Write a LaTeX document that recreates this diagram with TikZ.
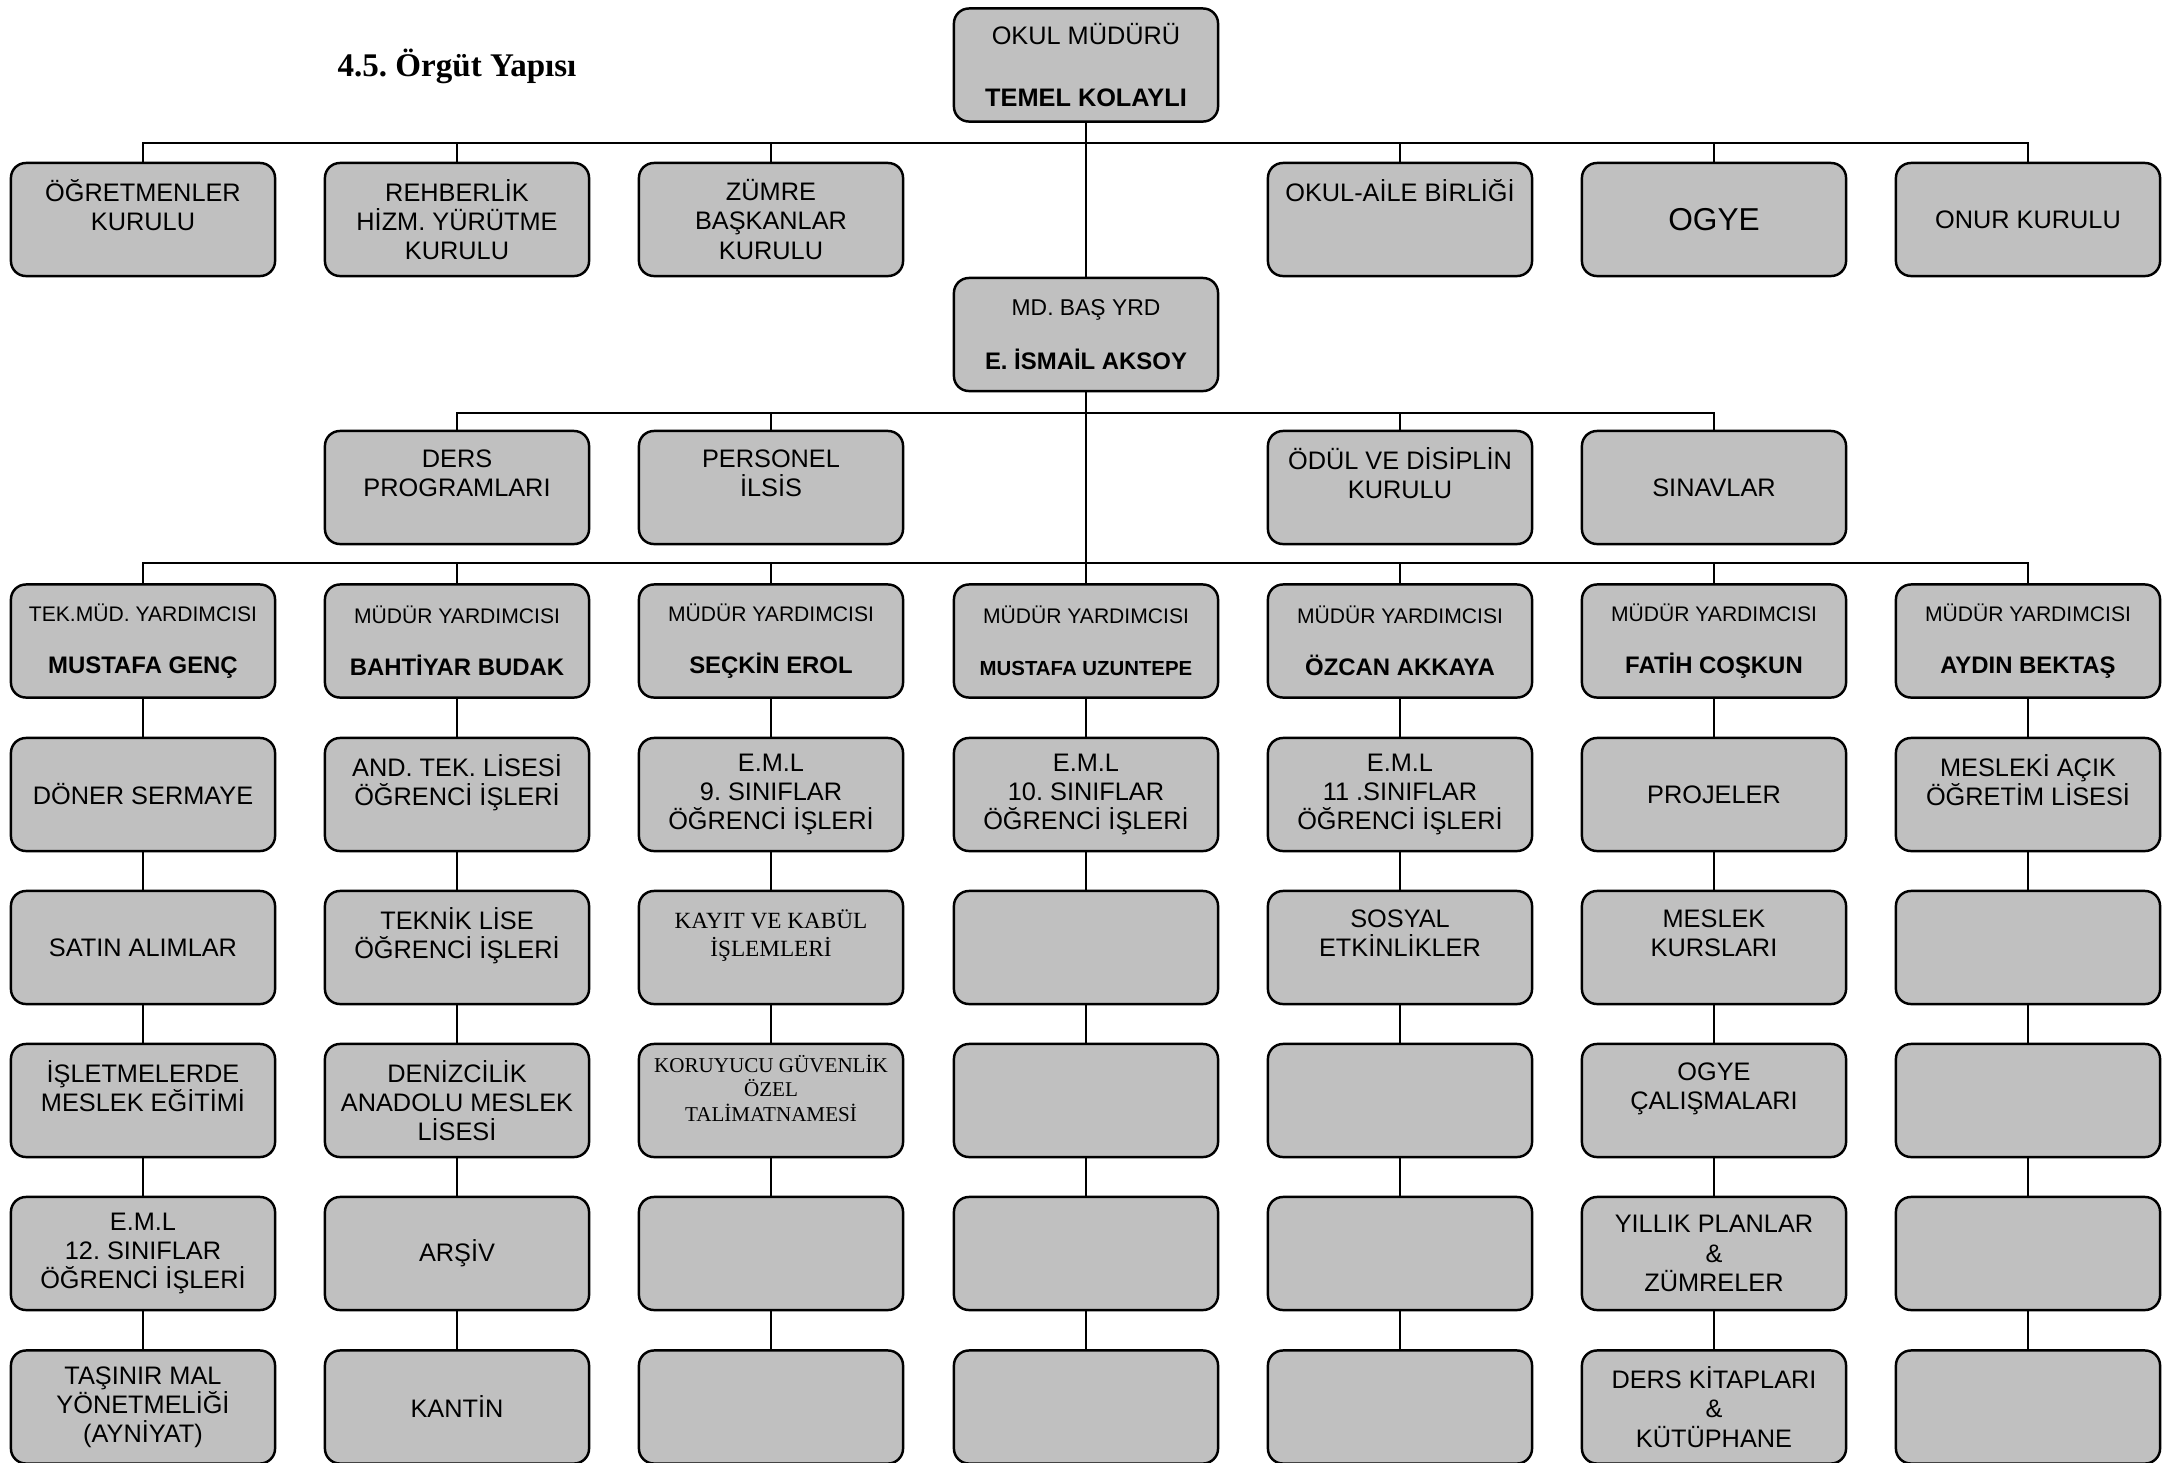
\documentclass[tikz,border=0pt]{standalone}
\usepackage{fontspec}
\setmainfont{Liberation Sans}
\newfontfamily\timesfont{Liberation Serif}
\definecolor{boxgray}{HTML}{C0C0C0}
\newcommand\rolefont{\fontsize{6}{7}\selectfont}
\newcommand\namefont{\bfseries\fontsize{6.8}{8}\selectfont}
\frenchspacing

\begin{document}
\begin{tikzpicture}[x=0.01cm,y=-0.01cm,
    box/.style={draw, fill=boxgray, rounded corners=0.15cm, line width=0.7pt,
      minimum width=2.64cm, minimum height=1.13cm, inner sep=0pt, align=center,
      font=\fontsize{7.2}{8.3}\selectfont},
    serifbox/.style={box, font=\timesfont\fontsize{6.6}{8.2}\selectfont},
    link/.style={line width=0.6pt}]
  \clip (0,0) rectangle (2165,1463);
  \path
    (457,66) node[font=\timesfont\bfseries\fontsize{9.4}{11}\selectfont] (title) {4.5. Örgüt Yapısı}
    (1086,65) node[box] (mudur) {OKUL MÜDÜRÜ\\[9.6pt]\textbf{TEMEL KOLAYLI}}
    (143,219.5) node[box] (k1) {ÖĞRETMENLER\\KURULU\\\mbox{}}
    (457,219.5) node[box] (k2) {REHBERLİK\\HİZM. YÜRÜTME\\KURULU}
    (771,219.5) node[box] (k3) {ZÜMRE\\BAŞKANLAR\\KURULU}
    (1400,219.5) node[box] (k5) {OKUL-AİLE BİRLİĞİ\\\mbox{}\\\mbox{}}
    (1714,219.5) node[box, font=\fontsize{9}{10}\selectfont] (k6) {OGYE}
    (2028,219.5) node[box] (k7) {ONUR KURULU}
    (1086,334.5) node[box] (basyrd) {{\fontsize{6.5}{8}\selectfont MD. BAŞ YRD}\\[7pt]{\namefont E. İSMAİL AKSOY}}
    (457,487.5) node[box] (p2) {DERS\\PROGRAMLARI\\\mbox{}}
    (771,487.5) node[box] (p3) {PERSONEL\\İLSİS\\\mbox{}}
    (1400,487.5) node[box] (p5) {ÖDÜL VE DİSİPLİN\\KURULU\\\mbox{}}
    (1714,487.5) node[box] (p6) {SINAVLAR};

  % mudur yardimcilari
  \path
    (143,641) node[box] (y1) {{\rolefont TEK.MÜD. YARDIMCISI}\\[6.4pt]{\namefont MUSTAFA GENÇ}}
    (457,641) node[box] (y2) {{\rolefont MÜDÜR YARDIMCISI}\\[6.4pt]{\namefont BAHTİYAR BUDAK}}
    (771,641) node[box] (y3) {{\rolefont MÜDÜR YARDIMCISI}\\[6.4pt]{\namefont SEÇKİN EROL}}
    (1086,641) node[box] (y4) {{\rolefont MÜDÜR YARDIMCISI}\\[6.4pt]{\bfseries\fontsize{5.8}{7}\selectfont MUSTAFA UZUNTEPE}}
    (1400,641) node[box] (y5) {{\rolefont MÜDÜR YARDIMCISI}\\[6.4pt]{\namefont ÖZCAN AKKAYA}}
    (1714,641) node[box] (y6) {{\rolefont MÜDÜR YARDIMCISI}\\[6.4pt]{\namefont FATİH COŞKUN}}
    (2028,641) node[box] (y7) {{\rolefont MÜDÜR YARDIMCISI}\\[6.4pt]{\namefont AYDIN BEKTAŞ}};

  \path
    (143,794.5) node[box] (a1) {DÖNER SERMAYE}
    (457,794.5) node[box] (a2) {AND. TEK. LİSESİ\\ÖĞRENCİ İŞLERİ\\\mbox{}}
    (771,794.5) node[box] (a3) {E.M.L\\9. SINIFLAR\\ÖĞRENCİ İŞLERİ}
    (1086,794.5) node[box] (a4) {E.M.L\\10. SINIFLAR\\ÖĞRENCİ İŞLERİ}
    (1400,794.5) node[box] (a5) {E.M.L\\11 .SINIFLAR\\ÖĞRENCİ İŞLERİ}
    (1714,794.5) node[box] (a6) {PROJELER}
    (2028,794.5) node[box] (a7) {MESLEKİ AÇIK\\ÖĞRETİM LİSESİ\\\mbox{}}
    (143,947.5) node[box] (b1) {SATIN ALIMLAR}
    (457,947.5) node[box] (b2) {TEKNİK LİSE\\ÖĞRENCİ İŞLERİ\\\mbox{}}
    (771,947.5) node[serifbox] (b3) {KAYIT VE KABÜL\\İŞLEMLERİ\\\mbox{}}
    (1086,947.5) node[box] (b4) {}
    (1400,947.5) node[box] (b5) {SOSYAL\\ETKİNLİKLER\\\mbox{}}
    (1714,947.5) node[box] (b6) {MESLEK\\KURSLARI\\\mbox{}}
    (2028,947.5) node[box] (b7) {}
    (143,1100.5) node[box] (c1) {İŞLETMELERDE\\MESLEK EĞİTİMİ\\\mbox{}}
    (457,1100.5) node[box] (c2) {DENİZCİLİK\\ANADOLU MESLEK\\LİSESİ}
    (771,1100.5) node[serifbox, font=\timesfont\fontsize{6}{7}\selectfont] (c3) {KORUYUCU GÜVENLİK\\ÖZEL\\TALİMATNAMESİ\\\mbox{}}
    (1086,1100.5) node[box] (c4) {}
    (1400,1100.5) node[box] (c5) {}
    (1714,1100.5) node[box] (c6) {OGYE\\ÇALIŞMALARI\\\mbox{}}
    (2028,1100.5) node[box] (c7) {}
    (143,1253.5) node[box] (d1) {E.M.L\\12. SINIFLAR\\ÖĞRENCİ İŞLERİ}
    (457,1253.5) node[box] (d2) {ARŞİV}
    (771,1253.5) node[box] (d3) {}
    (1086,1253.5) node[box] (d4) {}
    (1400,1253.5) node[box] (d5) {}
    (1714,1253.5) node[box] (d6) {YILLIK PLANLAR\\\&\\ZÜMRELER}
    (2028,1253.5) node[box] (d7) {}
    (143,1407) node[box] (e1) {TAŞINIR MAL\\YÖNETMELİĞİ\\(AYNİYAT)}
    (457,1407) node[box] (e2) {KANTİN}
    (771,1407) node[box] (e3) {}
    (1086,1407) node[box] (e4) {}
    (1400,1407) node[box] (e5) {}
    (1714,1407) node[box] (e6) {DERS KİTAPLARI\\\&\\KÜTÜPHANE}
    (2028,1407) node[box] (e7) {};

  \coordinate (bus1) at (1086,143);
  \coordinate (bus2) at (1086,413);
  \coordinate (bus3) at (1086,563);
  \begin{scope}[link]
    \draw (mudur) to (basyrd);
    \draw (basyrd) to (y4);
    \draw (k1.north) |- (bus1) -| (k7.north);
    \draw (k2.north) to (k2.north |- bus1);
    \draw (k3.north) to (k3.north |- bus1);
    \draw (k5.north) to (k5.north |- bus1);
    \draw (k6.north) to (k6.north |- bus1);
    \draw (p2.north) |- (bus2) -| (p6.north);
    \draw (p3.north) to (p3.north |- bus2);
    \draw (p5.north) to (p5.north |- bus2);
    \draw (y1.north) |- (bus3) -| (y7.north);
    \draw (y2.north) to (y2.north |- bus3);
    \draw (y3.north) to (y3.north |- bus3);
    \draw (y5.north) to (y5.north |- bus3);
    \draw (y6.north) to (y6.north |- bus3);
    \draw (y1) to (a1);
    \draw (y2) to (a2);
    \draw (y3) to (a3);
    \draw (y4) to (a4);
    \draw (y5) to (a5);
    \draw (y6) to (a6);
    \draw (y7) to (a7);
    \draw (a1) to (b1);
    \draw (a2) to (b2);
    \draw (a3) to (b3);
    \draw (a4) to (b4);
    \draw (a5) to (b5);
    \draw (a6) to (b6);
    \draw (a7) to (b7);
    \draw (b1) to (c1);
    \draw (b2) to (c2);
    \draw (b3) to (c3);
    \draw (b4) to (c4);
    \draw (b5) to (c5);
    \draw (b6) to (c6);
    \draw (b7) to (c7);
    \draw (c1) to (d1);
    \draw (c2) to (d2);
    \draw (c3) to (d3);
    \draw (c4) to (d4);
    \draw (c5) to (d5);
    \draw (c6) to (d6);
    \draw (c7) to (d7);
    \draw (d1) to (e1);
    \draw (d2) to (e2);
    \draw (d3) to (e3);
    \draw (d4) to (e4);
    \draw (d5) to (e5);
    \draw (d6) to (e6);
    \draw (d7) to (e7);
  \end{scope}
\end{tikzpicture}
\end{document}
